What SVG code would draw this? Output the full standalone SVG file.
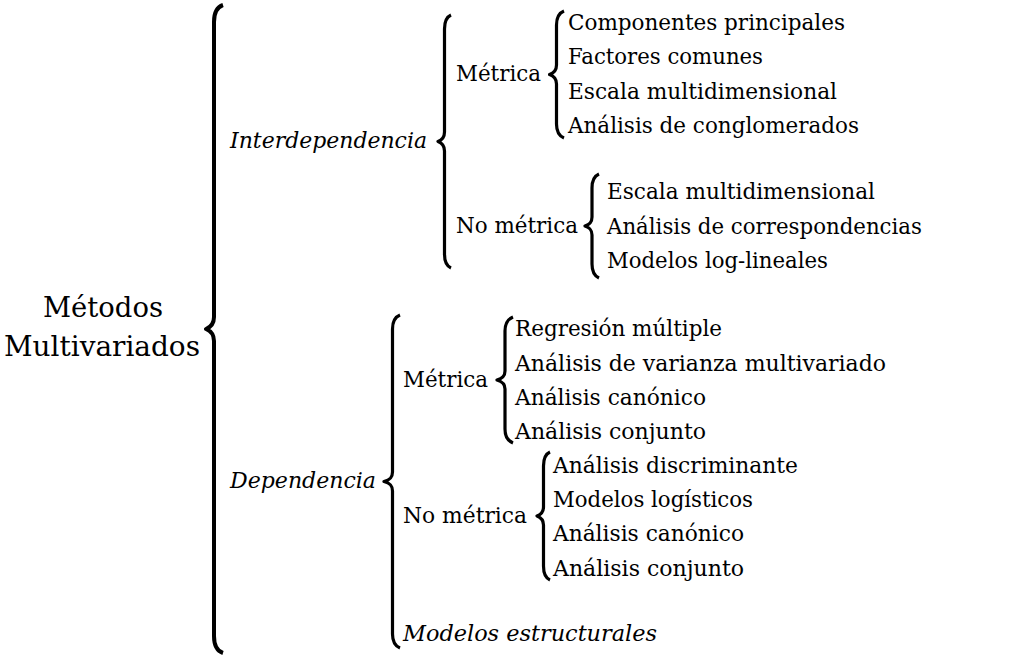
<svg xmlns="http://www.w3.org/2000/svg" width="1013" height="658" viewBox="0 0 1013 658">
<style>
  text { font-family: "DejaVu Serif", serif; fill: #000; }
  .r { font-size: 22px; }
  .i { font-size: 22px; font-style: italic; }
  .l { font-size: 27.5px; }
  .br { fill: none; stroke: #000; stroke-width: 3.2; stroke-linecap: butt; stroke-linejoin: round; }
  .brm { stroke-width: 4; }
</style>
<rect width="1013" height="658" fill="#fff"/>
<g id="connectors">
  <path class="br brm" d="M223,5 C217,7 214,12 214,22 L214,317 C214,324 211,327 206,329 C211,331 214,334 214,341 L214,636 C214,646 217,651 223,653"/>
  <path class="br" d="M451,15 C446.5,17 444.5,21 444.5,29 L444.5,132 C444.5,137.5 442,140 438,141.5 C442,143 444.5,145.5 444.5,151 L444.5,254 C444.5,262 446.5,266 451,268"/>
  <path class="br" d="M564,11 C559,13 556.5,17 556.5,25 L556.5,65 C556.5,70.5 554,73 549.5,74.5 C554,76 556.5,78.5 556.5,84 L556.5,124 C556.5,132 559,136 564,138"/>
  <path class="br" d="M599,174 C594.5,176 592,180 592,188 L592,217 C592,222.5 589.5,224.5 585,226 C589.5,227.5 592,229.5 592,235 L592,264 C592,272 594.5,276 599,278"/>
  <path class="br" d="M400,315 C395,317 392.5,321 392.5,329 L392.5,472 C392.5,477.5 390,480 384,481.5 C390,483 392.5,485.5 392.5,491 L392.5,634 C392.5,642 395,646 400,648"/>
  <path class="br" d="M513,317 C508,319 505,323 505,331 L505,371 C505,376.5 502,378.5 497,380 C502,381.5 505,383.5 505,389 L505,429 C505,437 508,441 513,443"/>
  <path class="br" d="M550,452 C545.5,454 543.5,458 543.5,466 L543.5,507 C543.5,512.5 541,514.5 537,516 C541,517.5 543.5,519.5 543.5,525 L543.5,566 C543.5,574 545.5,578 550,580"/>
</g>
<g id="root">
  <text class="l" x="103" y="317" text-anchor="middle" textLength="120" lengthAdjust="spacingAndGlyphs">Métodos</text>
  <text class="l" x="102" y="356" text-anchor="middle" textLength="196" lengthAdjust="spacingAndGlyphs">Multivariados</text>
</g>
<g id="interdependencia">
  <text class="i" x="230" y="148" textLength="197" lengthAdjust="spacingAndGlyphs">Interdependencia</text>
</g>
<g id="inter-metrica">
  <text class="r" x="456" y="80.5" textLength="85" lengthAdjust="spacingAndGlyphs">Métrica</text>
</g>
<g id="inter-metrica-items">
  <text class="r" x="568" y="29.5" textLength="277" lengthAdjust="spacingAndGlyphs">Componentes principales</text>
  <text class="r" x="568" y="64" textLength="195" lengthAdjust="spacingAndGlyphs">Factores comunes</text>
  <text class="r" x="568" y="98.5" textLength="269" lengthAdjust="spacingAndGlyphs">Escala multidimensional</text>
  <text class="r" x="568" y="133" textLength="291" lengthAdjust="spacingAndGlyphs">Análisis de conglomerados</text>
</g>
<g id="inter-nometrica">
  <text class="r" x="456" y="232.5" textLength="122" lengthAdjust="spacingAndGlyphs">No métrica</text>
</g>
<g id="inter-nometrica-items">
  <text class="r" x="607" y="199" textLength="268" lengthAdjust="spacingAndGlyphs">Escala multidimensional</text>
  <text class="r" x="607" y="233.5" textLength="315" lengthAdjust="spacingAndGlyphs">Análisis de correspondencias</text>
  <text class="r" x="607" y="268" textLength="221" lengthAdjust="spacingAndGlyphs">Modelos log-lineales</text>
</g>
<g id="dependencia">
  <text class="i" x="230" y="488" textLength="146" lengthAdjust="spacingAndGlyphs">Dependencia</text>
</g>
<g id="dep-metrica">
  <text class="r" x="403" y="386.5" textLength="85" lengthAdjust="spacingAndGlyphs">Métrica</text>
</g>
<g id="dep-metrica-items">
  <text class="r" x="515" y="336" textLength="207" lengthAdjust="spacingAndGlyphs">Regresión múltiple</text>
  <text class="r" x="515" y="370.5" textLength="371" lengthAdjust="spacingAndGlyphs">Análisis de varianza multivariado</text>
  <text class="r" x="515" y="405" textLength="191" lengthAdjust="spacingAndGlyphs">Análisis canónico</text>
  <text class="r" x="515" y="439" textLength="191" lengthAdjust="spacingAndGlyphs">Análisis conjunto</text>
</g>
<g id="dep-nometrica">
  <text class="r" x="403" y="523" textLength="124" lengthAdjust="spacingAndGlyphs">No métrica</text>
</g>
<g id="dep-nometrica-items">
  <text class="r" x="553" y="472.5" textLength="245" lengthAdjust="spacingAndGlyphs">Análisis discriminante</text>
  <text class="r" x="553" y="507" textLength="200" lengthAdjust="spacingAndGlyphs">Modelos logísticos</text>
  <text class="r" x="553" y="541" textLength="191" lengthAdjust="spacingAndGlyphs">Análisis canónico</text>
  <text class="r" x="553" y="575.5" textLength="191" lengthAdjust="spacingAndGlyphs">Análisis conjunto</text>
</g>
<g id="modelos-estructurales">
  <text class="i" x="403" y="641" textLength="254" lengthAdjust="spacingAndGlyphs">Modelos estructurales</text>
</g>
</svg>
